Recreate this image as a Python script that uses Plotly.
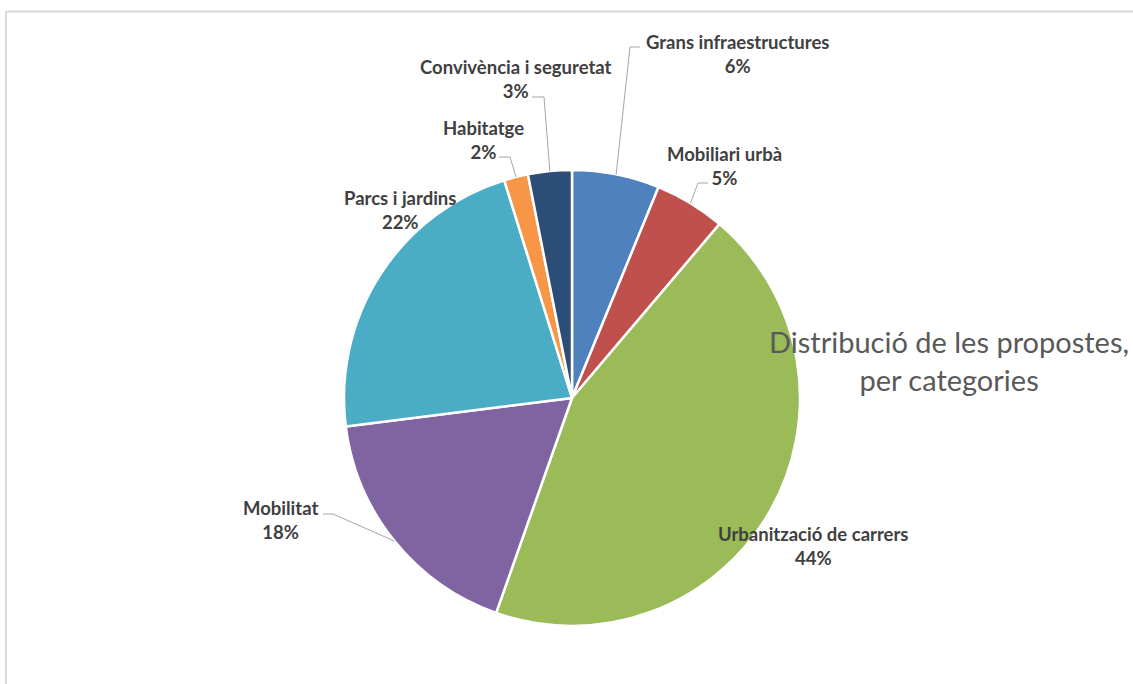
import math
import plotly.graph_objects as go

# data (share of proposals, %)
categories = [
    "Grans infraestructures",
    "Mobiliari urbà",
    "Urbanització de carrers",
    "Mobilitat",
    "Parcs i jardins",
    "Habitatge",
    "Convivència i seguretat",
]
shares = [6.2, 5.0, 44.2, 17.6, 22.2, 1.7, 3.1]
colors = ["#4F81BD", "#C0504D", "#9BBB59", "#8064A2", "#4BACC6", "#F79646", "#2C4D75"]

W, H = 1133, 684
CX, CY, R = 572, 398, 228  # pie centre / radius in px

# label layout (px): text centre, and elbow points of the leader line (None = no line)
label_pos = {
    "Grans infraestructures": ((737, 54), [(640, 47), (630, 47)]),
    "Mobiliari urbà": ((725, 166), [(708, 183), (698, 183)]),
    "Urbanització de carrers": ((813, 546), None),
    "Mobilitat": ((280, 520), [(323, 514), (333, 514)]),
    "Parcs i jardins": ((400, 210), None),
    "Habitatge": ((483, 140), [(499, 157), (510, 157)]),
    "Convivència i seguretat": ((516, 79), [(532, 97), (544, 97)]),
}


def px(x, y):
    return x / W, 1 - y / H


fig = go.Figure()
x0, y1 = px(CX - R, CY - R)
x1, y0 = px(CX + R, CY + R)
fig.add_trace(
    go.Pie(
        labels=categories,
        values=shares,
        sort=False,
        direction="clockwise",
        rotation=0,
        marker=dict(colors=colors, line=dict(color="white", width=2.5)),
        textinfo="none",
        hoverinfo="label+percent",
        domain=dict(x=[x0, x1], y=[y0, y1]),
        showlegend=False,
    )
)

total = sum(shares)
acc = 0
for cat, v in zip(categories, shares):
    mid = (acc + v / 2) / total * 2 * math.pi
    acc += v
    (tx, ty), elbow = label_pos[cat]
    ax, ay = px(tx, ty)
    fig.add_annotation(
        x=ax,
        y=ay,
        xref="paper",
        yref="paper",
        xanchor="center",
        yanchor="middle",
        text=f"{cat}<br>{round(v / total * 100)}%",
        showarrow=False,
        font=dict(family="Lato, Carlito, sans-serif", size=18.5, color="#404040", weight="bold"),
        align="center",
    )
    if elbow:
        ex, ey = CX + R * math.sin(mid), CY - R * math.cos(mid)
        pts = [px(*p) for p in elbow] + [px(ex, ey)]
        path = "M " + " L ".join(f"{a},{b}" for a, b in pts)
        fig.add_shape(
            type="path", path=path, xref="paper", yref="paper",
            line=dict(color="#a6a6a6", width=1),
        )

# chart title
tx, ty = px(949, 360)
fig.add_annotation(
    x=tx, y=ty, xref="paper", yref="paper",
    xanchor="center", yanchor="middle",
    text="Distribució de les propostes,<br>per categories",
    showarrow=False,
    font=dict(family="Lato, Carlito, sans-serif", size=29, color="#595959"),
    align="center",
)

# chart area border (top and left edges visible)
bx, by = px(6, 11.5)
fig.add_shape(type="line", xref="paper", yref="paper", x0=bx, x1=1, y0=by, y1=by,
              line=dict(color="#d9d9d9", width=2))
fig.add_shape(type="line", xref="paper", yref="paper", x0=bx, x1=bx, y0=0, y1=by,
              line=dict(color="#d9d9d9", width=2))

fig.update_layout(
    width=W,
    height=H,
    margin=dict(l=0, r=0, t=0, b=0),
    paper_bgcolor="white",
    plot_bgcolor="white",
)

# drop the default page margin so the figure sits at the window corner
fig.write_html(
    "out.html",
    config={"displayModeBar": False},
    post_script="document.body.style.margin='0';",
)
